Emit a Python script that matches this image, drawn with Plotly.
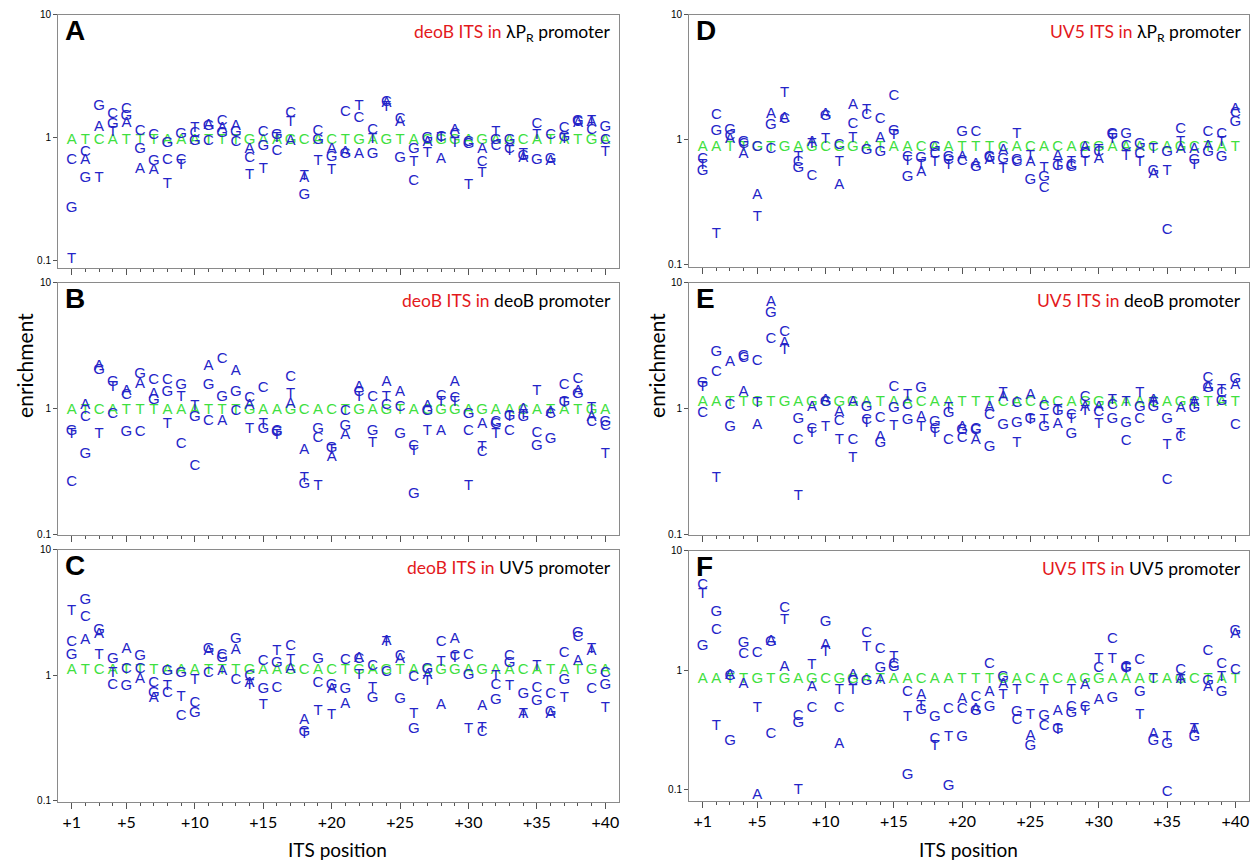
import plotly.graph_objects as go

positions = list(range(1, 41))
deoB_its = "ATCATTTAAATTTGAAGCACTGAGTACGGAGAACATATGA"
uv5_its = "AATTGTGAGCGGATAACAATTTCACACAGGAAACAGCTAT"
tick_pos = [1, 5, 10, 15, 20, 25, 30, 35, 40]
tick_txt = ["+1", "+5", "+10", "+15", "+20", "+25", "+30", "+35", "+40"]

# Panel A: deoB ITS in lambda PR promoter
A_A = [None, .66, 1.23, None, 1.32, .56, .55, None, None, None, 1.26, 1.19, 1.25, .81, None, None, .93, .47, None, .80,
       .76, .74, None, 1.91, 1.35, None, .92, .67, 1.16, None, .81, None, None, .68, None, .65, None, 1.32, 1.33, None]
A_C = [.66, .76, None, 1.56, 1.71, 1.14, 1.05, .66, .66, 1.08, .93, 1.37, .92, .68, 1.12, .78, 1.59, None, 1.14, None,
       1.61, 1.44, 1.16, 1.94, 1.42, .44, None, 1.02, 1.07, .92, .63, .86, .81, None, 1.29, 1.04, 1.19, 1.35, 1.16, .96]
A_G = [.27, .47, 1.79, 1.29, 1.51, .81, .65, .91, 1.07, .93, 1.25, 1.08, 1.10, None, .86, 1.05, None, .34, .95, .69,
       .74, None, .74, None, .68, .81, .99, None, None, .89, None, .95, .96, .71, .66, .67, 1.02, 1.37, None, 1.21]
A_T = [.103, None, .47, 1.12, None, None, None, .42, .60, 1.19, None, None, None, .50, .56, .99, 1.33, .49, .64, .55,
       None, 1.82, .98, 1.77, None, .63, .75, .99, .91, .41, .52, 1.12, .78, .74, 1.04, None, .97, None, 1.37, .76]

# Panel B: deoB ITS in deoB promoter
B_A = [None, 1.06, 2.16, None, 1.38, 1.56, 1.30, None, None, None, 2.16, .80, 1.97, 1.06, None, None, 1.08, .47, None, .41,
       .61, 1.47, None, 1.61, 1.36, None, 1.05, .66, 1.61, None, .75, None, None, .99, None, .94, None, 1.38, .86, None]
B_C = [.26, .86, None, .90, 1.28, .65, 1.69, 1.69, .52, .35, .80, 2.48, .96, 1.20, 1.44, .66, 1.77, None, .58, None,
       .96, 1.34, 1.22, 1.06, 1.02, .50, None, 1.25, 1.21, .66, .45, .78, .66, None, .64, .90, 1.53, 1.71, .78, .73]
B_G = [.66, .43, 2.0, 1.61, .65, 1.86, 1.17, 1.34, 1.53, .85, 1.53, 1.22, 1.34, None, .68, .65, None, .25, .68, .48,
       .73, None, .66, None, .62, .21, .96, None, None, .90, None, .75, .87, .86, .50, .57, 1.13, 1.30, None, .78]
B_T = [.62, None, .62, 1.47, None, None, None, .75, 1.22, 1.05, None, None, None, .69, .75, .61, 1.30, .28, .24, .47,
       None, 1.23, .53, 1.22, None, .46, .66, 1.12, 1.13, .24, .49, .62, .86, .88, 1.38, None, 1.10, None, 1.0, .43]

# Panel C: deoB ITS in UV5 promoter
C_A = [None, 1.89, 2.11, None, 1.62, .93, .66, None, None, None, 1.55, 1.08, 1.58, .87, None, None, 1.11, .44, None, .77,
       .59, 1.36, None, 1.87, 1.35, None, 1.01, .58, 1.93, None, .57, None, None, .49, None, .49, None, 1.29, 1.55, None]
C_C = [1.83, 2.92, None, .84, 1.11, 1.11, .87, .72, .47, .60, 1.03, 1.44, .92, .98, 1.29, .79, 1.70, None, .87, None,
       1.33, 1.35, 1.18, 1.06, 1.42, .97, None, 1.83, 1.42, 1.44, .35, .83, 1.42, None, .79, .71, 1.51, 2.02, .77, 1.04]
C_G = [1.44, 4.0, 2.29, 1.35, .82, 1.42, .72, 1.08, 1.03, .50, 1.60, 1.37, 1.93, None, .77, 1.24, None, .35, 1.35, .83,
       .77, None, .66, None, .65, .37, 1.12, None, None, 1.01, None, .63, 1.24, .71, .62, .51, .92, 2.18, None, .83]
C_T = [3.24, None, 1.44, 1.04, None, None, None, .82, .67, .91, None, None, None, .83, .58, 1.55, 1.33, .34, .52, .48,
       None, 1.01, .79, 1.83, None, .49, .90, 1.27, 1.37, .37, .38, .98, .82, .49, 1.18, None, .66, None, 1.62, .55]

# Panel D: UV5 ITS in lambda PR promoter
D_A = [None, None, 1.02, .77, .36, 1.61, 1.48, None, .95, 1.61, .43, 1.90, None, 1.04, None, None, .55, None, None, .73,
       .64, .69, .82, None, .66, None, .74, None, .87, .70, None, None, None, .53, None, .84, .84, .89, None, 1.76]
D_C = [.70, 1.56, 1.06, .93, .87, .84, 1.47, .66, .51, None, .91, 1.34, 1.56, 1.45, 2.23, .72, None, .77, .69, .67,
       1.16, .71, None, .66, None, .41, None, .63, .77, .79, 1.08, .89, .77, None, .19, 1.22, None, 1.15, 1.11, 1.64]
D_G = [.56, 1.18, 1.20, .96, None, 1.31, None, .59, None, 1.54, None, None, .83, .80, 1.18, .50, .71, .87, .72, 1.15,
       .60, .72, .70, .69, .48, .50, .61, .60, None, None, 1.11, 1.11, .92, .56, .79, None, .69, .80, .73, 1.38]
D_T = [.63, .175, None, None, .24, None, 2.37, .72, .92, 1.01, .66, 1.04, 1.71, None, 1.08, .68, .63, .66, .63, None,
       None, None, .58, 1.11, .74, .59, .63, .66, .66, .83, 1.01, .74, .66, .84, .56, .95, .63, None, .96, None]

# Panel E: UV5 ITS in deoB promoter
E_A = [None, None, 2.33, 1.36, .74, 7.0, 3.30, None, 1.03, 1.17, .94, 1.12, None, .59, None, None, .86, None, None, .71,
       .56, 1.03, 1.24, None, 1.28, None, .75, None, 1.03, 1.03, None, None, None, 1.17, None, 1.0, 1.12, 1.49, None, 1.53]
E_C = [.91, 1.96, 1.06, 2.51, 2.36, 3.57, 4.04, .56, .69, None, .79, .56, .81, .84, 1.49, 1.06, None, .69, .56, .58,
       .69, .89, None, 1.10, None, 1.05, None, .89, 1.24, .94, 1.06, .55, .82, None, .27, .59, None, 1.73, 1.32, .74]
E_G = [1.58, 2.80, .71, 2.63, None, 5.73, None, .83, None, 1.12, None, None, 1.03, .53, 1.0, .81, 1.44, .78, .91, .67,
       .67, .49, .74, .77, .83, .71, .95, .63, None, None, .83, .77, 1.03, 1.03, .83, None, 1.0, 1.44, 1.14, 1.71]
E_T = [1.49, .28, None, None, 1.10, None, 2.92, .20, .64, .71, .56, .40, .77, None, .73, 1.28, .71, .64, 1.0, None,
       None, None, 1.32, .53, .81, .81, .97, .83, .95, .75, 1.17, 1.12, 1.32, 1.10, .51, .63, 1.06, None, 1.40, None]

# Panel F: UV5 ITS in UV5 promoter
F_A = [None, None, .90, .76, .0896, 1.74, 1.05, None, .71, 1.60, .24, .91, None, .82, None, None, .61, None, None, .57,
       .47, .65, .76, None, .28, None, .45, None, .74, .56, None, None, None, .29, None, .84, .31, .71, None, 2.01]
F_C = [5.11, 2.17, .88, 1.35, 1.38, .29, 3.32, .41, .48, None, .48, .80, 2.03, 1.50, 1.11, .65, None, .26, .47, .47,
       .59, 1.11, None, .38, None, .34, None, .49, .49, 1.04, 1.82, 1.05, 1.20, None, .094, 1.0, None, 1.44, 1.11, .99]
F_G = [1.57, 3.05, .25, 1.68, None, 1.70, None, .36, None, 2.52, None, None, .81, 1.04, 1.05, .13, .46, .40, .105, .27,
       .45, .49, .87, .44, .23, .41, .32, .43, None, None, .58, 1.04, .65, .25, .24, None, .27, .81, .65, 2.11]
F_T = [4.30, .34, None, None, .48, None, 2.63, .097, 1.09, 1.41, .68, .67, 1.55, None, 1.28, .40, .50, .23, .27, None,
       None, None, .61, .68, .42, .68, .31, .67, .45, 1.24, 1.24, 1.02, .42, .84, .27, .82, .32, None, .87, None]

# consensus (wild-type) enrichment level per panel
consensus_level = {"A": 0.95, "B": 0.97, "C": 1.09, "D": 0.87, "E": 1.13, "F": 0.84}

W, H = 1257, 864
BLUE = "#2424c8"
GREEN = "#3fe03f"
LETTER_FONT = "Liberation Sans, Arial, sans-serif"
TEXT_FONT = "Lato, Open Sans, sans-serif"

# vertical placement correction measured from the rendered page
V_OFF, V_SCALE = 5.2, 0.987


def px(x):
    return min(1.0, max(0.0, x / W))


def py(y):
    yf = (y - V_OFF) / V_SCALE
    return min(1.0, max(0.0, 1 - yf / H))


panels = [
    dict(key="A", seq=deoB_its, data=(A_A, A_C, A_G, A_T), its="deoB", prom="λP<sub>R</sub> promoter",
         x0=58, x1=619, y0=14, y1=267, ylo=-1.057, bottom=False),
    dict(key="B", seq=deoB_its, data=(B_A, B_C, B_G, B_T), its="deoB", prom="deoB promoter",
         x0=58, x1=619, y0=282, y1=534, ylo=-1.005, bottom=False),
    dict(key="C", seq=deoB_its, data=(C_A, C_C, C_G, C_T), its="deoB", prom="UV5 promoter",
         x0=58, x1=619, y0=549, y1=801, ylo=-1.01, bottom=True),
    dict(key="D", seq=uv5_its, data=(D_A, D_C, D_G, D_T), its="UV5", prom="λP<sub>R</sub> promoter",
         x0=689, x1=1249, y0=14, y1=266, ylo=-1.015, bottom=False),
    dict(key="E", seq=uv5_its, data=(E_A, E_C, E_G, E_T), its="UV5", prom="deoB promoter",
         x0=689, x1=1249, y0=282, y1=534, ylo=-1.005, bottom=False),
    dict(key="F", seq=uv5_its, data=(F_A, F_C, F_G, F_T), its="UV5", prom="UV5 promoter",
         x0=689, x1=1249, y0=550, y1=800, ylo=-1.1, bottom=True),
]

fig = go.Figure()
annotations = []
layout = {}

for i, p in enumerate(panels, start=1):
    xa = "x" if i == 1 else f"x{i}"
    ya = "y" if i == 1 else f"y{i}"
    xs, ys, ts = [], [], []
    for base, arr in zip("ACGT", p["data"]):
        for pos, v in zip(positions, arr):
            if v is not None:
                xs.append(pos)
                ys.append(v)
                ts.append(base)
    fig.add_trace(go.Scatter(
        x=positions, y=[consensus_level[p["key"]]] * len(positions), text=list(p["seq"]),
        mode="text", textposition="middle center",
        textfont=dict(family=LETTER_FONT, size=15, color=GREEN),
        xaxis=xa, yaxis=ya, showlegend=False, hoverinfo="skip", cliponaxis=False))
    fig.add_trace(go.Scatter(
        x=xs, y=ys, text=ts, mode="text", textposition="middle center",
        textfont=dict(family=LETTER_FONT, size=15, color=BLUE),
        xaxis=xa, yaxis=ya, showlegend=False, cliponaxis=False))

    xkey = "xaxis" if i == 1 else f"xaxis{i}"
    ykey = "yaxis" if i == 1 else f"yaxis{i}"
    layout[xkey] = dict(
        domain=[px(p["x0"]), px(p["x1"])], range=[0, 41], anchor=ya,
        showline=True, mirror=True, linecolor="#8a8a8a", linewidth=1,
        showgrid=False, zeroline=False,
        tickmode="array", tickvals=tick_pos, ticktext=tick_txt,
        showticklabels=p["bottom"], ticks="outside", ticklen=6, tickcolor="#555555",
        ticklabeloverflow="allow",
        tickfont=dict(family=TEXT_FONT, size=16, color="black"),
        minor=dict(tickmode="array", tickvals=positions, ticks="outside", ticklen=3, tickcolor="#555555"),
    )
    layout[ykey] = dict(
        domain=[py(p["y1"]), py(p["y0"])], type="log", range=[p["ylo"], 1], anchor=xa,
        showline=True, mirror=True, linecolor="#8a8a8a", linewidth=1,
        showgrid=False, zeroline=False,
        tickmode="array", tickvals=[0.1, 1, 10], ticktext=["0.1", "1", "10"],
        ticks="outside", ticklen=4, tickcolor="#555555",
        tickfont=dict(family=LETTER_FONT, size=10, color="black"),
    )
    # panel letter
    annotations.append(dict(
        text=f"<b>{p['key']}</b>", x=px(p["x0"] + 5), y=py(p["y0"] + 16),
        xref="paper", yref="paper", xanchor="left", yanchor="middle", showarrow=False,
        font=dict(family="Liberation Sans, Arial, sans-serif", size=28, color="black")))
    # panel title
    annotations.append(dict(
        text=f"<span style='color:#e3191c'>{p['its']} ITS in </span>{p['prom']}",
        x=px(p["x1"] - 6), y=py(p["y0"] + 18),
        xref="paper", yref="paper", xanchor="right", yanchor="middle", showarrow=False,
        font=dict(family=TEXT_FONT, size=17.5, color="black")))

# axis titles
for xc in (25, 657):
    annotations.append(dict(text="enrichment", x=px(xc), y=py(365), xref="paper", yref="paper",
                            textangle=-90, showarrow=False, xanchor="center", yanchor="middle",
                            font=dict(family=TEXT_FONT, size=21, color="black")))
for xc in (338, 968):
    annotations.append(dict(text="ITS position", x=px(xc), y=py(848), xref="paper", yref="paper",
                            showarrow=False, xanchor="center", yanchor="middle",
                            font=dict(family=TEXT_FONT, size=19, color="black")))

fig.update_layout(
    width=W, height=H, margin=dict(l=0, r=0, t=0, b=0),
    paper_bgcolor="white", plot_bgcolor="white",
    annotations=annotations, **layout)

# make the figure fill the page exactly (no default body margin / stray line boxes)
page_fix = (
    "document.documentElement.style.margin='0';document.documentElement.style.padding='0';"
    "document.documentElement.style.overflow='hidden';"
    "document.body.style.margin='0';document.body.style.padding='0';document.body.style.overflow='hidden';"
    "var g=document.getElementById('{plot_id}');"
    "if(g&&g.parentNode){g.parentNode.style.lineHeight='0';g.parentNode.style.fontSize='0';}"
)
fig.write_html("out.html", post_script=page_fix, config={"displayModeBar": False})
